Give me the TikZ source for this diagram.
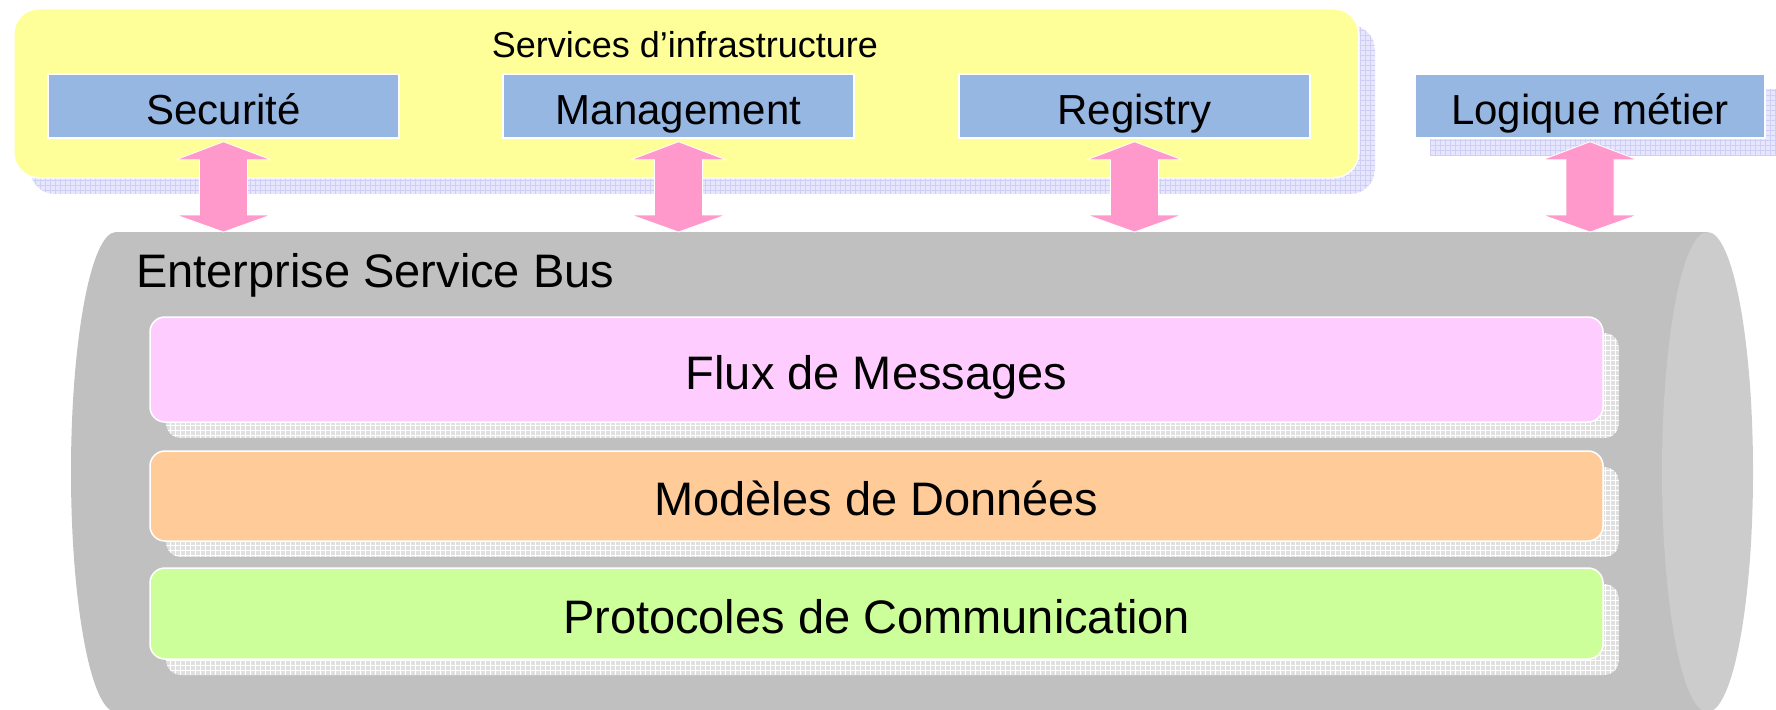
\documentclass[tikz,border=0pt]{standalone}
\usepackage{fontspec}
\setmainfont{Liberation Sans}
\usetikzlibrary{calc}
\definecolor{yel}{HTML}{FFFF99}
\definecolor{boxblue}{RGB}{151,183,227}
\definecolor{flux}{HTML}{FFCCFF}
\definecolor{modl}{HTML}{FFCC99}
\definecolor{prot}{HTML}{CCFF99}
\definecolor{apink}{HTML}{FF99CC}
\definecolor{busbody}{HTML}{C0C0C0}
\definecolor{busend}{HTML}{CCCCCC}
\definecolor{shgray}{HTML}{E0E0E0}
\definecolor{shlav}{HTML}{E6E6FF}
\definecolor{shlavline}{HTML}{CFCFF5}
\newcommand\gridshadow[7]{%
  \begin{scope}
    \clip[rounded corners=#5] (#1,#2) rectangle (#3,#4);
    \fill[#6] (#1,#2) rectangle (#3,#4);
    \draw[#7, line width=0.6pt] (#1,#2) grid[xstep=5pt,ystep=5pt] (#3,#4);
  \end{scope}}
\tikzset{
  infrabox/.style={draw=white, line width=1.5pt, fill=yel, rounded corners=25pt, inner sep=0pt},
  bluebox/.style={draw=white, line width=1.5pt, fill=boxblue, minimum width=351pt, minimum height=64pt,
    inner sep=0pt, font=\fontsize{42}{50}\selectfont, text height=36pt, text depth=0pt},
  layerbox/.style={draw=white, line width=1.5pt, rounded corners=15pt, minimum width=1453pt,
    inner sep=0pt, font=\fontsize{47}{56}\selectfont, text height=39pt, text depth=0pt},
  bigarrow/.style={fill=apink, draw=white, line width=0.8pt},
}
\begin{document}
\begin{tikzpicture}[x=1pt,y=-1pt]
\useasboundingbox (0,0) rectangle (1776,709);
\clip (0,0) rectangle (1776,709);
% infrastructure group
\gridshadow{30}{25}{1375}{194}{25pt}{shlav}{shlavline}
\node[infrabox, minimum width=1345pt, minimum height=169pt, anchor=north west] (infra) at (13,8) {};
\node[font=\fontsize{36}{43}\selectfont, anchor=base, inner sep=0pt] (infratitle) at (685,58) {Services d’infrastructure};
\node[bluebox] (sec) at (223.5,106) {Securité};
\node[bluebox] (man) at (678.5,106) {Management};
\node[bluebox] (reg) at (1134.5,106) {Registry};
% business logic
\gridshadow{1430}{89}{1785}{155}{0pt}{shlav}{shlavline}
\node[bluebox, minimum width=350pt] (log) at (1590,106) {Logique métier};
% bus cylinder
\fill[busbody] (116,232) -- (1707,232) -- (1707,712) -- (116,712)
  arc[start angle=90, end angle=270, x radius=45, y radius=240] -- cycle;
\fill[busend] (1707.5,472) ellipse [x radius=45.5, y radius=240];
\coordinate (bustop) at (0,232);
\node[font=\fontsize{47}{56}\selectfont, anchor=base west, inner sep=0pt] (esb) at (136,287) {Enterprise Service Bus};
% layers
\gridshadow{166}{333}{1619}{438}{15pt}{shgray}{white}
\gridshadow{166}{467}{1619}{557}{15pt}{shgray}{white}
\gridshadow{166}{584}{1619}{675}{15pt}{shgray}{white}
\node[layerbox, fill=flux, minimum height=105pt] (lflux) at (876.5,369.5) {Flux de Messages};
\node[layerbox, fill=modl, minimum height=90pt] (lmod) at (876.5,496) {Modèles de Données};
\node[layerbox, fill=prot, minimum height=91pt] (lprot) at (876.5,613.5) {Protocoles de Communication};
% arrows
\foreach \bx in {sec,man,reg,log}{
  \filldraw[bigarrow] let \p1=([yshift=-3pt]\bx.south), \p2=(\bx.south |- bustop) in
    (\x1,\y1) -- (\x1+47.5pt,\y1-18pt) -- (\x1+24pt,\y1-18pt) -- (\x1+24pt,\y2+17pt)
    -- (\x1+47.5pt,\y2+17pt) -- (\x2,\y2) -- (\x1-47.5pt,\y2+17pt) -- (\x1-24pt,\y2+17pt)
    -- (\x1-24pt,\y1-18pt) -- (\x1-47.5pt,\y1-18pt) -- cycle;
}
\end{tikzpicture}
\end{document}
